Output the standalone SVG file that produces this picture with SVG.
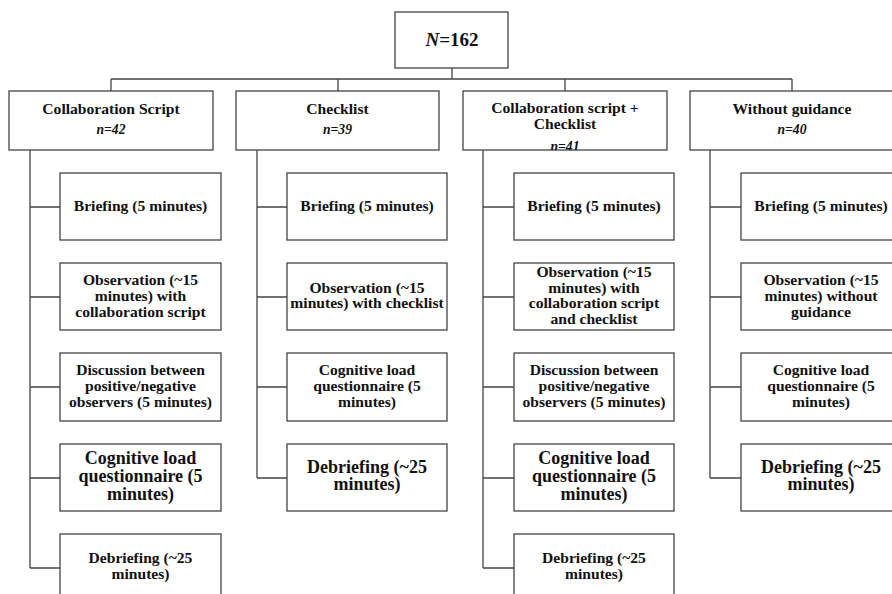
<svg xmlns="http://www.w3.org/2000/svg" width="892" height="594" viewBox="0 0 892 594">
<style>
rect{fill:#fff;stroke:#444;stroke-width:1.3}
.c path{stroke:#444;stroke-width:1.3;fill:none}
text{font-family:'Liberation Serif','DejaVu Serif',serif;font-weight:bold;fill:#111;text-anchor:middle}
.s{font-size:15.6px}
.l{font-size:18px}
.h{font-size:15.6px}
.n{font-size:13.6px;font-style:italic}
.top{font-size:19px}
</style>
<defs>
<clipPath id="cb3"><rect x="463" y="91" width="204" height="59"/></clipPath>
</defs>
<g class="c" id="connectors">
<path d="M452 68V79M111 79H792M111 79V91M338 79V91M565 79V91M792 79V91"/>
<path d="M30 150V568M30 207H60M30 297H60M30 387H60M30 478H60M30 568H60"/>
<path d="M257 150V478M257 207H287M257 297H287M257 387H287M257 478H287"/>
<path d="M483 150V568M483 207H514M483 297H514M483 387H514M483 478H514M483 568H514"/>
<path d="M710 150V478M710 207H741M710 297H741M710 387H741M710 478H741"/>
</g>
<g id="root"><rect x="395" y="12" width="113" height="56"/><text class="top" x="452" y="46"><tspan font-style="italic">N</tspan>=162</text></g>
<g id="g1"><rect x="9" y="91" width="204" height="59"/><text class="h" x="111" y="114">Collaboration Script</text><text class="n" x="111" y="134">n=42</text></g>
<g id="g2"><rect x="236" y="91" width="203" height="59"/><text class="h" x="337.5" y="114">Checklist</text><text class="n" x="337.5" y="134">n=39</text></g>
<g id="g3"><rect x="463" y="91" width="204" height="59"/><text class="h" x="565" y="113">Collaboration script +</text><text class="h" x="565" y="129">Checklist</text><text class="n" x="565" y="151" clip-path="url(#cb3)">n=41</text></g>
<g id="g4"><rect x="690" y="91" width="204" height="59"/><text class="h" x="792" y="114">Without guidance</text><text class="n" x="792" y="134">n=40</text></g>

<g id="c1s1"><rect x="60" y="173" width="161" height="67"/><text class="s" x="140.5" y="211">Briefing (5 minutes)</text></g>
<g id="c1s2"><rect x="60" y="263" width="161" height="67"/><text class="s" x="140.5" y="285">Observation (~15</text><text class="s" x="140.5" y="301">minutes) with</text><text class="s" x="140.5" y="317">collaboration script</text></g>
<g id="c1s3"><rect x="60" y="353" width="161" height="68"/><text class="s" x="140.5" y="375">Discussion between</text><text class="s" x="140.5" y="391">positive/negative</text><text class="s" x="140.5" y="407">observers (5 minutes)</text></g>
<g id="c1s4"><rect x="60" y="444" width="161" height="67"/><text class="l" x="140.5" y="464">Cognitive load</text><text class="l" x="140.5" y="482">questionnaire (5</text><text class="l" x="140.5" y="500">minutes)</text></g>
<g id="c1s5"><rect x="60" y="534" width="161" height="67"/><text class="s" x="140.5" y="563">Debriefing (~25</text><text class="s" x="140.5" y="579">minutes)</text></g>

<g id="c2s1"><rect x="287" y="173" width="160" height="67"/><text class="s" x="367" y="211">Briefing (5 minutes)</text></g>
<g id="c2s2"><rect x="287" y="263" width="160" height="67"/><text class="s" x="367" y="293">Observation (~15</text><text class="s" x="367" y="308">minutes) with checklist</text></g>
<g id="c2s3"><rect x="287" y="353" width="160" height="68"/><text class="s" x="367" y="375">Cognitive load</text><text class="s" x="367" y="391">questionnaire (5</text><text class="s" x="367" y="407">minutes)</text></g>
<g id="c2s4"><rect x="287" y="444" width="160" height="67"/><text class="l" x="367" y="473">Debriefing (~25</text><text class="l" x="367" y="490">minutes)</text></g>

<g id="c3s1"><rect x="514" y="173" width="160" height="67"/><text class="s" x="594" y="211">Briefing (5 minutes)</text></g>
<g id="c3s2"><rect x="514" y="263" width="160" height="67"/><text class="s" x="594" y="277">Observation (~15</text><text class="s" x="594" y="293">minutes) with</text><text class="s" x="594" y="308">collaboration script</text><text class="s" x="594" y="324">and checklist</text></g>
<g id="c3s3"><rect x="514" y="353" width="160" height="68"/><text class="s" x="594" y="375">Discussion between</text><text class="s" x="594" y="391">positive/negative</text><text class="s" x="594" y="407">observers (5 minutes)</text></g>
<g id="c3s4"><rect x="514" y="444" width="160" height="67"/><text class="l" x="594" y="464">Cognitive load</text><text class="l" x="594" y="482">questionnaire (5</text><text class="l" x="594" y="500">minutes)</text></g>
<g id="c3s5"><rect x="514" y="534" width="160" height="67"/><text class="s" x="594" y="563">Debriefing (~25</text><text class="s" x="594" y="579">minutes)</text></g>

<g id="c4s1"><rect x="741" y="173" width="161" height="67"/><text class="s" x="821" y="211">Briefing (5 minutes)</text></g>
<g id="c4s2"><rect x="741" y="263" width="161" height="67"/><text class="s" x="821" y="285">Observation (~15</text><text class="s" x="821" y="301">minutes) without</text><text class="s" x="821" y="317">guidance</text></g>
<g id="c4s3"><rect x="741" y="353" width="161" height="68"/><text class="s" x="821" y="375">Cognitive load</text><text class="s" x="821" y="391">questionnaire (5</text><text class="s" x="821" y="407">minutes)</text></g>
<g id="c4s4"><rect x="741" y="444" width="161" height="67"/><text class="l" x="821" y="473">Debriefing (~25</text><text class="l" x="821" y="490">minutes)</text></g>
</svg>
